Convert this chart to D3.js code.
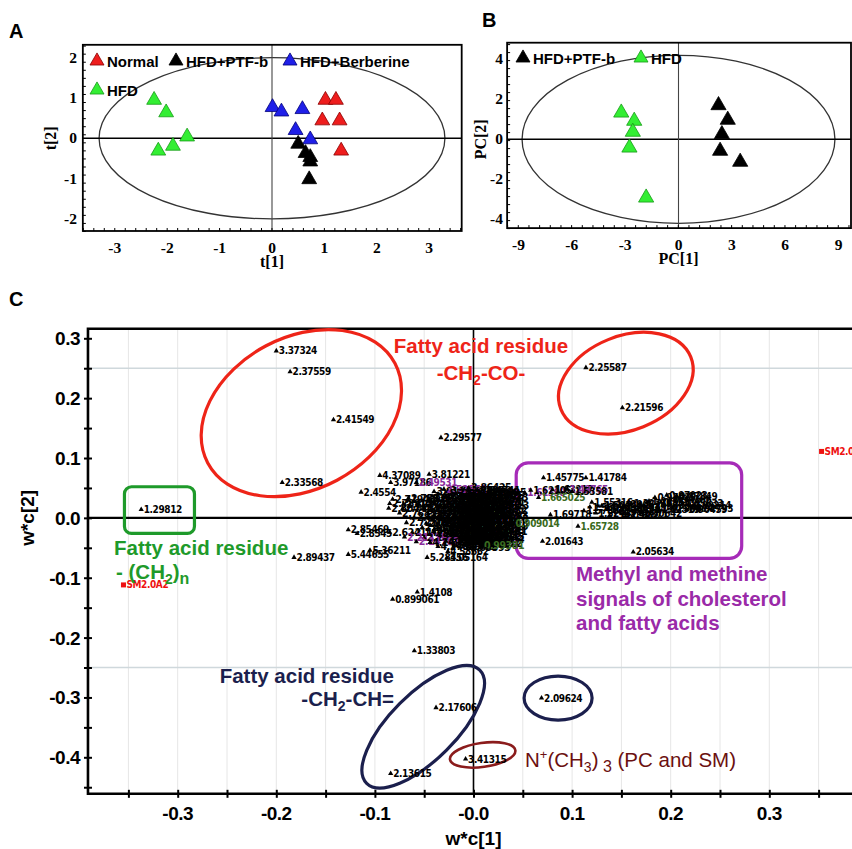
<!DOCTYPE html>
<html>
<head>
<meta charset="utf-8">
<script src="https://cdn.jsdelivr.net/npm/d3@7"></script>
<style>
  body { margin: 0; background: #fff; }
  svg { display: block; }
</style>
</head>
<body>
<div id="fig"></div>
<script>
// ---------- panel A : PLS-DA scores t[1] / t[2]
var groupsA = ["Normal", "HFD+PTF-b", "HFD+Berberine", "HFD"];
var scoreNormal    = [[1.02, 0.95], [1.22, 0.95], [0.96, 0.44], [1.29, 0.44], [1.32, -0.31]];
var scorePTF       = [[0.50, -0.14], [0.64, -0.37], [0.73, -0.47], [0.73, -0.58], [0.71, -1.02]];
var scoreBerberine = [[0.01, 0.77], [0.18, 0.66], [0.58, 0.72], [0.45, 0.20], [0.73, -0.03]];
var scoreHFD       = [[-2.25, 0.95], [-2.02, 0.64], [-1.62, 0.04], [-2.17, -0.31], [-1.89, -0.19]];
var xTicksA = [-3, -2, -1, 0, 1, 2, 3];
var yTicksA = [2, 1, 0, -1, -2];
var ellipseA = [3.3, 2.0];

// ---------- panel B : PCA scores PC[1] / PC[2]
var groupsB = ["HFD+PTF-b", "HFD"];
var pcaPTF = [[2.25, 1.70], [2.77, 0.97], [2.44, 0.25], [2.34, -0.58], [3.47, -1.13]];
var pcaHFD = [[-3.22, 1.33], [-2.49, 0.92], [-2.57, 0.37], [-2.76, -0.42], [-1.82, -2.92]];
var xTicksB = [-9, -6, -3, 0, 3, 6, 9];
var yTicksB = [4, 2, 0, -2, -4];
var ellipseB = [8.8, 4.2];

// ---------- panel C : loadings w*c[1] / w*c[2]  (x, y, ppm label)
var xTicksC = [-0.3, -0.2, -0.1, 0, 0.1, 0.2, 0.3];
var xTickLabelsC = ["-0.3", "-0.2", "-0.1", "-0.0", "0.1", "0.2", "0.3"];
var yTicksC = [0.3, 0.2, 0.1, 0, -0.1, -0.2, -0.3, -0.4];
var yTickLabelsC = ["0.3", "0.2", "0.1", "0.0", "-0.1", "-0.2", "-0.3", "-0.4"];

var loadingsSpread = [
  [-0.200, 0.279, "3.37324"], [-0.186, 0.244, "2.37559"], [-0.142, 0.164, "2.41549"],
  [-0.194, 0.059, "2.33568"], [-0.337, 0.014, "1.29812"], [-0.182, -0.066, "2.89437"],
  [-0.033, 0.134, "2.29577"], [0.114, 0.251, "2.25587"], [0.151, 0.184, "2.21596"],
  [-0.082, -0.136, "0.899061"], [-0.057, -0.124, "1.4108"], [-0.060, -0.222, "1.33803"],
  [-0.038, -0.317, "2.17606"], [-0.084, -0.427, "2.13615"], [-0.008, -0.403, "3.41315"],
  [0.069, -0.301, "2.09624"], [0.070, -0.039, "2.01643"], [0.162, -0.057, "2.05634"],
  [-0.095, 0.071, "4.37089"], [-0.045, 0.073, "3.81221"], [-0.114, 0.043, "2.4554"],
  [-0.084, 0.059, "3.97186"], [-0.058, 0.059, "2.49531"], [-0.127, -0.020, "2.85469"],
  [-0.118, -0.026, "2.8545"], [-0.127, -0.061, "5.44655"], [-0.105, -0.054, "5.36211"],
  [-0.047, -0.066, "5.28456"], [-0.026, -0.056, "4.58662"], [-0.027, -0.067, "3.05164"]
];

var clusterCore = [
  [-0.030, 0.048, "2.52562"], [-0.005, 0.050, "3.86425"], [0.004, 0.046, "3.54741"],
  [-0.036, 0.040, "2.55282"], [-0.018, 0.041, "3.64587"], [0.000, 0.039, "3.22816"], [0.010, 0.042, "3.33095"],
  [-0.082, 0.031, "2.71943"], [-0.066, 0.033, "2.75937"], [-0.045, 0.032, "2.63248"], [-0.025, 0.031, "3.76913"],
  [-0.010, 0.033, "3.45602"], [0.005, 0.030, "3.19184"], [0.012, 0.034, "3.09523"],
  [-0.085, 0.024, "2.78912"], [-0.071, 0.023, "2.69871"], [-0.040, 0.024, "2.58823"], [-0.020, 0.025, "3.71266"],
  [-0.002, 0.023, "3.57234"], [0.009, 0.025, "3.26471"], [0.013, 0.020, "1.99813"],
  [-0.086, 0.016, "2.80441"], [-0.072, 0.015, "2.74419"], [-0.050, 0.016, "2.61504"], [-0.030, 0.017, "3.68302"],
  [-0.012, 0.015, "3.50149"], [0.002, 0.016, "3.30417"], [0.011, 0.013, "1.88532"],
  [-0.075, 0.008, "2.76852"], [-0.046, 0.007, "2.07145"], [-0.030, 0.009, "3.61093"], [-0.015, 0.008, "3.40078"],
  [-0.004, 0.006, "3.13357"], [0.008, 0.009, "1.82207"], [0.012, 0.004, "1.78643"],
  [-0.060, 0.000, "2.65913"], [-0.035, -0.001, "2.04125"], [-0.020, 0.001, "3.59204"], [-0.008, -0.002, "3.38812"],
  [0.004, 0.000, "3.16952"], [0.012, -0.003, "1.72815"],
  [-0.068, -0.008, "2.72105"], [-0.048, -0.009, "2.01187"], [-0.030, -0.007, "3.66478"], [-0.015, -0.009, "3.43719"],
  [-0.002, -0.008, "3.25096"], [0.010, -0.010, "1.59321"],
  [-0.052, -0.016, "2.11754"], [-0.036, -0.017, "3.79012"], [-0.022, -0.015, "3.48935"], [-0.008, -0.016, "3.35147"],
  [0.004, -0.017, "1.36402"], [0.012, -0.015, "1.30719"],
  [-0.085, -0.024, "2.62411"], [-0.062, -0.025, "2.14298"], [-0.040, -0.023, "3.83524"], [-0.026, -0.025, "3.52760"],
  [-0.012, -0.024, "3.21305"], [0.002, -0.026, "1.26884"], [0.011, -0.023, "1.23411"],
  [-0.070, -0.032, "2.21135"], [-0.050, -0.033, "2.18563"], [-0.034, -0.031, "3.92207"], [-0.018, -0.032, "4.06511"],
  [-0.004, -0.033, "1.19956"], [0.008, -0.031, "1.17045"],
  [-0.058, -0.040, "2.24782"], [-0.044, -0.041, "4.14927"], [-0.028, -0.039, "4.20833"], [-0.012, -0.040, "1.14216"],
  [0.004, -0.041, "1.08457"],
  [-0.036, -0.048, "4.27619"], [-0.020, -0.047, "4.31052"], [-0.006, -0.049, "1.05393"], [0.008, -0.046, "0.99381"]
];

// second, denser layer of the central cloud
var clusterDense = [
  [-0.040, 0.044, "3.91846"], [-0.026, 0.045, "3.88217"], [-0.012, 0.046, "3.84105"], [0.002, 0.043, "3.80396"],
  [-0.042, 0.036, "3.77341"], [-0.028, 0.037, "3.74028"], [-0.014, 0.036, "3.70512"], [0.000, 0.035, "3.67190"], [0.008, 0.037, "3.63725"],
  [-0.044, 0.028, "3.62014"], [-0.032, 0.028, "3.58936"], [-0.018, 0.029, "3.55312"], [-0.006, 0.027, "3.52089"], [0.006, 0.028, "3.49671"],
  [-0.046, 0.020, "3.46218"], [-0.034, 0.021, "3.42756"], [-0.022, 0.020, "3.39417"], [-0.008, 0.019, "3.36104"], [0.004, 0.021, "3.32863"],
  [-0.042, 0.012, "3.29548"], [-0.026, 0.012, "3.26217"], [-0.010, 0.011, "3.23094"], [0.004, 0.012, "3.19652"],
  [-0.040, 0.004, "3.16391"], [-0.026, 0.004, "3.13018"], [-0.012, 0.003, "3.09847"], [0.002, 0.004, "3.06512"],
  [-0.042, -0.004, "3.03279"], [-0.024, -0.004, "2.99845"], [-0.010, -0.005, "2.96613"], [0.004, -0.004, "2.93284"],
  [-0.044, -0.012, "2.88056"], [-0.028, -0.012, "2.84719"], [-0.014, -0.013, "2.81425"], [0.000, -0.012, "2.78190"],
  [-0.040, -0.020, "2.74863"], [-0.028, -0.020, "2.71534"], [-0.016, -0.021, "2.68202"], [-0.002, -0.020, "2.64975"], [0.008, -0.021, "2.61648"],
  [-0.036, -0.028, "2.58312"], [-0.022, -0.028, "2.55074"], [-0.008, -0.029, "2.51736"], [0.004, -0.028, "2.48415"],
  [-0.030, -0.036, "2.45183"], [-0.016, -0.036, "2.41852"], [-0.002, -0.037, "2.38527"], [0.008, -0.036, "2.35294"],
  [-0.022, -0.043, "2.31968"], [-0.008, -0.044, "2.28641"], [0.006, -0.043, "2.25312"]
];

var clusterMethyl = [
  [0.071, 0.067, "1.45775"], [0.114, 0.067, "1.41784"], [0.052, 0.042, "1.61398"], [0.058, 0.046, "1.62105"],
  [0.066, 0.034, "1.665025"], [0.080, 0.047, "1.63217"], [0.095, 0.048, "1.49765"], [0.100, 0.044, "1.53581"],
  [0.040, -0.009, "0.909014"], [0.078, 0.005, "1.69718"], [0.106, -0.014, "1.65728"],
  [0.112, 0.012, "1.57892"], [0.118, 0.018, "1.56023"], [0.124, 0.008, "1.52437"], [0.130, 0.020, "1.50144"],
  [0.136, 0.014, "1.47281"], [0.142, 0.022, "1.43906"], [0.148, 0.010, "1.39527"], [0.154, 0.018, "1.36235"],
  [0.160, 0.024, "1.32719"], [0.166, 0.014, "1.28452"], [0.172, 0.020, "1.24963"], [0.178, 0.028, "1.21385"],
  [0.184, 0.034, "0.97025"], [0.190, 0.026, "0.95312"], [0.196, 0.038, "0.97023"], [0.200, 0.030, "0.94186"],
  [0.206, 0.036, "0.87849"], [0.212, 0.024, "0.85633"], [0.216, 0.014, "0.90459"], [0.220, 0.020, "0.89214"],
  [0.222, 0.016, "0.92793"], [0.120, 0.026, "1.55316"], [0.138, 0.004, "1.46092"], [0.156, 0.006, "1.40871"],
  [0.170, 0.008, "1.30642"], [0.188, 0.014, "1.02519"], [0.202, 0.016, "0.99874"]
];

var smPoints = [[-0.355, -0.112, "SM2.0A2"], [0.353, 0.111, "SM2.0A1"]];
var purpleLabels = ["2.49531", "2.52562", "2.21135", "2.24782", "1.49765", "1.61398"];
var greenLabels = ["1.665025", "0.909014", "1.65728", "0.99381"];

// ================================================================
var svg = d3.select('#fig').append('svg')
    .attr('width', 852)
    .attr('height', 849)
    .style('font-family', '"Liberation Sans", Arial, sans-serif');

var tri = d3.symbol().type(d3.symbolTriangle);
var serif = '"Liberation Serif", "Times New Roman", serif';

function drawTriangles(g, x, y, pts, fill, stroke, size) {
  g.selectAll(null)
    .data(pts)
    .enter()
    .append('path')
    .attr('d', tri.size(size)())
    .attr('transform', d => `translate(${x(d[0])},${y(d[1])})`)
    .attr('fill', fill)
    .attr('stroke', stroke)
    .attr('stroke-width', 0.8);
}

// score panel frame, ellipse, zero lines, ticks
function scorePanel(x, y, f, ell, xt, yt, xlab, ylab, ylabX, yTickRight) {
  var g = svg.append('g');
  g.append('ellipse')
    .attr('cx', x(0)).attr('cy', y(0))
    .attr('rx', x(ell[0]) - x(0)).attr('ry', y(0) - y(ell[1]))
    .attr('fill', 'none').attr('stroke', '#333').attr('stroke-width', 1.3);
  g.append('line')
    .attr('x1', f.x0).attr('x2', f.x1).attr('y1', y(0)).attr('y2', y(0))
    .attr('stroke', '#000').attr('stroke-width', 1.6);
  g.append('line')
    .attr('x1', x(0)).attr('x2', x(0)).attr('y1', f.y0).attr('y2', f.y1)
    .attr('stroke', '#444').attr('stroke-width', 1.1);
  g.append('rect')
    .attr('x', f.x0).attr('y', f.y0)
    .attr('width', f.x1 - f.x0).attr('height', f.y1 - f.y0)
    .attr('fill', 'none').attr('stroke', '#000').attr('stroke-width', 1.8);

  // small tick marks on left and bottom edges
  var xStep = (xt[1] - xt[0]) / 5, yStep = (yt[0] - yt[1]) / 5;
  g.append('g')
    .attr('transform', `translate(0,${f.y1})`)
    .call(d3.axisBottom(x).tickValues(d3.range(x.invert(f.x0), x.invert(f.x1), xStep)).tickSize(-3).tickFormat(''))
    .call(s => s.select('.domain').remove());
  g.append('g')
    .attr('transform', `translate(${f.x0},0)`)
    .call(d3.axisLeft(y).tickValues(d3.range(y.invert(f.y1), y.invert(f.y0), yStep)).tickSize(-3).tickFormat(''))
    .call(s => s.select('.domain').remove());

  g.selectAll('.xl').data(xt).enter().append('text')
    .attr('x', d => x(d)).attr('y', f.y1 + 22)
    .attr('text-anchor', 'middle')
    .style('font-family', serif).style('font-weight', 'bold').style('font-size', '15.5px')
    .text(d => d);
  g.selectAll('.yl').data(yt).enter().append('text')
    .attr('x', yTickRight).attr('y', d => y(d) + 5)
    .attr('text-anchor', 'end')
    .style('font-family', serif).style('font-weight', 'bold').style('font-size', '15.5px')
    .text(d => d);
  g.append('text')
    .attr('x', x(0)).attr('y', f.y1 + 36)
    .attr('text-anchor', 'middle')
    .style('font-family', serif).style('font-weight', 'bold').style('font-size', '16px')
    .text(xlab);
  g.append('text')
    .attr('transform', `translate(${ylabX},${y(0)}) rotate(-90)`)
    .attr('text-anchor', 'middle')
    .style('font-family', serif).style('font-weight', 'bold').style('font-size', '16px')
    .text(ylab);
  return g;
}

function legendItem(g, px, py, label, fill, stroke) {
  g.append('path')
    .attr('d', tri.size(85)())
    .attr('transform', `translate(${px},${py})`)
    .attr('fill', fill).attr('stroke', stroke).attr('stroke-width', 0.8);
  g.append('text')
    .attr('x', px + 10).attr('y', py + 5.5)
    .style('font-weight', 'bold').style('font-size', '15px')
    .text(label);
}

var colRed = '#ee1d1d', colBlue = '#1f1fe8', colGreen = '#33ee33', colBlack = '#000';

// ---------- A
var xA = d3.scaleLinear().domain([-3, 3]).range([114.8, 429.2]);
var yA = d3.scaleLinear().domain([-2, 2]).range([218.9, 57.7]);
var fA = {x0: xA(-3.61), x1: xA(3.62), y0: yA(2.32), y1: yA(-2.3)};
var gA = scorePanel(xA, yA, fA, ellipseA, xTicksA, yTicksA, 't[1]', 't[2]', 56, 77);
drawTriangles(gA, xA, yA, scoreHFD, colGreen, '#169a16', 95);
drawTriangles(gA, xA, yA, scoreBerberine, colBlue, '#00007a', 95);
drawTriangles(gA, xA, yA, scoreNormal, colRed, '#8a0000', 95);
drawTriangles(gA, xA, yA, scorePTF, colBlack, '#000', 95);
legendItem(gA, 97, 61, groupsA[0], colRed, '#8a0000');
legendItem(gA, 176, 61, groupsA[1], colBlack, '#000');
legendItem(gA, 290, 61, groupsA[2], colBlue, '#00007a');
legendItem(gA, 97, 90, groupsA[3], colGreen, '#169a16');
svg.append('text').attr('x', 9).attr('y', 38)
  .style('font-weight', 'bold').style('font-size', '20px').text('A');

// ---------- B
var xB = d3.scaleLinear().domain([-9, 9]).range([518.5, 838.5]);
var yB = d3.scaleLinear().domain([-4, 4]).range([219.3, 59.3]);
var fB = {x0: xB(-9.64), x1: 851, y0: yB(4.83), y1: yB(-4.44)};
var gB = scorePanel(xB, yB, fB, ellipseB, xTicksB, yTicksB, 'PC[1]', 'PC[2]', 486, 503);
drawTriangles(gB, xB, yB, pcaHFD, colGreen, '#169a16', 100);
drawTriangles(gB, xB, yB, pcaPTF, colBlack, '#000', 100);
legendItem(gB, 523, 58, groupsB[0], colBlack, '#000');
legendItem(gB, 641, 58, groupsB[1], colGreen, '#169a16');
svg.append('text').attr('x', 482).attr('y', 27)
  .style('font-weight', 'bold').style('font-size', '20px').text('B');

// ---------- C
var xC = d3.scaleLinear().domain([-0.3, 0.3]).range([177.7, 769.3]);
var yC = d3.scaleLinear().domain([-0.4, 0.3]).range([757.3, 338.3]);
var fC = {x0: xC(-0.391), x1: 856, y0: yC(0.316), y1: yC(-0.461)};
var gC = svg.append('g');

// faint grid
gC.selectAll('.vg').data(d3.range(-0.35, 0.36, 0.05)).enter().append('line')
  .attr('x1', d => xC(d)).attr('x2', d => xC(d))
  .attr('y1', fC.y0).attr('y2', fC.y1)
  .attr('stroke', '#e6e6e6').attr('stroke-width', 1);
gC.selectAll('.hg').data([0.25, -0.25]).enter().append('line')
  .attr('x1', fC.x0).attr('x2', fC.x1)
  .attr('y1', d => yC(d)).attr('y2', d => yC(d))
  .attr('stroke', '#cfd8dc').attr('stroke-width', 1.3);

// zero lines
gC.append('line').attr('x1', fC.x0).attr('x2', fC.x1).attr('y1', yC(0)).attr('y2', yC(0))
  .attr('stroke', '#000').attr('stroke-width', 2.4);
gC.append('line').attr('x1', xC(0)).attr('x2', xC(0)).attr('y1', fC.y0).attr('y2', fC.y1)
  .attr('stroke', '#000').attr('stroke-width', 1.6);

// frame (left, top, bottom)
gC.append('path')
  .attr('d', `M${fC.x1},${fC.y0}H${fC.x0}V${fC.y1}H${fC.x1}`)
  .attr('fill', 'none').attr('stroke', '#000').attr('stroke-width', 2.6);
gC.append('g')
  .attr('transform', `translate(0,${fC.y1})`)
  .call(d3.axisBottom(xC).tickValues(d3.range(-0.35, 0.38, 0.05)).tickSize(4).tickFormat(''))
  .call(s => s.select('.domain').remove())
  .call(s => s.selectAll('line').attr('y1', -4).attr('stroke-width', 2));
gC.append('g')
  .attr('transform', `translate(${fC.x0},0)`)
  .call(d3.axisLeft(yC).tickValues(d3.range(-0.45, 0.32, 0.05)).tickSize(4).tickFormat(''))
  .call(s => s.select('.domain').remove())
  .call(s => s.selectAll('line').attr('x1', 4).attr('stroke-width', 2));

gC.selectAll('.xl').data(xTicksC).enter().append('text')
  .attr('x', d => xC(d)).attr('y', 820)
  .attr('text-anchor', 'middle')
  .style('font-weight', 'bold').style('font-size', '19px').style('letter-spacing', '-0.5px')
  .text((d, i) => xTickLabelsC[i]);
gC.selectAll('.yl').data(yTicksC).enter().append('text')
  .attr('x', 80).attr('y', d => yC(d) + 7)
  .attr('text-anchor', 'end')
  .style('font-weight', 'bold').style('font-size', '19px').style('letter-spacing', '-0.5px')
  .text((d, i) => yTickLabelsC[i]);
gC.append('text').attr('x', xC(0)).attr('y', 845).attr('text-anchor', 'middle')
  .style('font-weight', 'bold').style('font-size', '19px').text('w*c[1]');
gC.append('text').attr('transform', `translate(34,${yC(0)}) rotate(-90)`).attr('text-anchor', 'middle')
  .style('font-weight', 'bold').style('font-size', '19px').text('w*c[2]');
svg.append('text').attr('x', 9).attr('y', 306)
  .style('font-weight', 'bold').style('font-size', '20px').text('C');

// annotation shapes
var annot = gC.append('g').attr('fill', 'none').attr('stroke-width', 3.2);
annot.append('ellipse')
  .attr('transform', `translate(${xC(-0.1746)},${yC(0.175)}) rotate(-28)`)
  .attr('rx', 106).attr('ry', 76).attr('stroke', '#ee2418');
annot.append('ellipse')
  .attr('transform', `translate(${xC(0.1545)},${yC(0.225)}) rotate(-22)`)
  .attr('rx', 70).attr('ry', 47).attr('stroke', '#ee2418');
annot.append('rect')
  .attr('x', xC(-0.354)).attr('y', yC(0.052))
  .attr('width', xC(-0.283) - xC(-0.354)).attr('height', yC(-0.026) - yC(0.052))
  .attr('rx', 7).attr('stroke', '#1e9a2a');
annot.append('rect')
  .attr('x', xC(0.0433)).attr('y', yC(0.092))
  .attr('width', xC(0.272) - xC(0.0433)).attr('height', yC(-0.0675) - yC(0.092))
  .attr('rx', 12).attr('stroke', '#a62bb8');
annot.append('ellipse')
  .attr('transform', `translate(${xC(-0.051)},${yC(-0.349)}) rotate(-45)`)
  .attr('rx', 80).attr('ry', 33).attr('stroke', '#1b1f4d');
annot.append('ellipse')
  .attr('transform', `translate(${xC(0.0858)},${yC(-0.301)})`)
  .attr('rx', 34).attr('ry', 22).attr('stroke', '#1b1f4d');
annot.append('ellipse')
  .attr('transform', `translate(${xC(0.0093)},${yC(-0.396)}) rotate(-8)`)
  .attr('rx', 33).attr('ry', 12).attr('stroke', '#8b1c1c').attr('stroke-width', 2.6);

// loading points
var smallTri = tri.size(12)();
function labelColor(lbl) {
  if (purpleLabels.indexOf(lbl) >= 0) return '#8a2a9a';
  if (greenLabels.indexOf(lbl) >= 0) return '#3a6a20';
  return '#000';
}
function drawLoadings(pts, fs) {
  var p = gC.append('g').selectAll(null).data(pts).enter().append('g')
    .attr('transform', d => `translate(${xC(d[0])},${yC(d[1])})`);
  p.append('path').attr('d', smallTri).attr('fill', '#000');
  p.append('text')
    .attr('x', 2.5).attr('y', 3.5)
    .style('font-family', '"Liberation Sans Narrow", "DejaVu Sans Condensed", "Liberation Sans", sans-serif')
    .style('font-weight', 'bold').style('font-size', fs + 'px').style('letter-spacing', '-0.4px')
    .attr('fill', d => labelColor(d[2]))
    .text(d => d[2]);
}
drawLoadings(clusterDense, 10.5);
drawLoadings(clusterCore, 10.5);
drawLoadings(clusterMethyl, 10);
drawLoadings(loadingsSpread, 10);

var sm = gC.append('g').selectAll(null).data(smPoints).enter().append('g')
  .attr('transform', d => `translate(${xC(d[0])},${yC(d[1])})`);
sm.append('rect').attr('x', -2.5).attr('y', -2.5).attr('width', 5).attr('height', 5).attr('fill', '#ee1111');
sm.append('text').attr('x', 3).attr('y', 3.5)
  .style('font-family', '"Liberation Sans Narrow", "DejaVu Sans Condensed", "Liberation Sans", sans-serif')
  .style('font-weight', 'bold').style('font-size', '10px').style('letter-spacing', '-0.4px')
  .attr('fill', '#ee1111').text(d => d[2]);

// annotation texts
var tx = gC.append('g').style('font-weight', 'bold').style('font-size', '20.5px');
tx.append('text').attr('x', 481).attr('y', 353).attr('text-anchor', 'middle').attr('fill', '#ee2418')
  .text('Fatty acid residue');
var t2 = tx.append('text').attr('x', 481).attr('y', 380).attr('text-anchor', 'middle').attr('fill', '#ee2418');
t2.append('tspan').text('-CH');
t2.append('tspan').attr('dy', 5).style('font-size', '14px').text('2');
t2.append('tspan').attr('dy', -5).text('-CO-');

tx.append('text').attr('x', 114).attr('y', 555).attr('fill', '#1e9a2a').text('Fatty acid residue');
var g2 = tx.append('text').attr('x', 116).attr('y', 579).attr('fill', '#1e9a2a');
g2.append('tspan').text('- (CH');
g2.append('tspan').attr('dy', 5).style('font-size', '14px').text('2');
g2.append('tspan').attr('dy', -5).text(')');
g2.append('tspan').attr('dy', 5).style('font-size', '16px').text('n');

var pTxt = ['Methyl and methine', 'signals of cholesterol', 'and fatty acids'];
tx.selectAll('.pt').data(pTxt).enter().append('text')
  .attr('x', 576).attr('y', (d, i) => 581 + i * 24.5).attr('fill', '#9a2aa8')
  .text(d => d);

tx.append('text').attr('x', 394).attr('y', 683).attr('text-anchor', 'end').attr('fill', '#1b1f4d')
  .text('Fatty acid residue');
var n2 = tx.append('text').attr('x', 394).attr('y', 706).attr('text-anchor', 'end').attr('fill', '#1b1f4d');
n2.append('tspan').text('-CH');
n2.append('tspan').attr('dy', 5).style('font-size', '14px').text('2');
n2.append('tspan').attr('dy', -5).text('-CH=');

var nm = tx.append('text').attr('x', 525).attr('y', 767).attr('fill', '#6b1010').style('font-weight', 'normal');
nm.append('tspan').text('N');
nm.append('tspan').attr('dy', -8).style('font-size', '13px').text('+');
nm.append('tspan').attr('dy', 8).text('(CH');
nm.append('tspan').attr('dy', 5).style('font-size', '14px').text('3');
nm.append('tspan').attr('dy', -5).text(')');
nm.append('tspan').attr('dy', 5).style('font-size', '16px').text(' 3');
nm.append('tspan').attr('dy', -5).text(' (PC and SM)');
</script>
</body>
</html>
